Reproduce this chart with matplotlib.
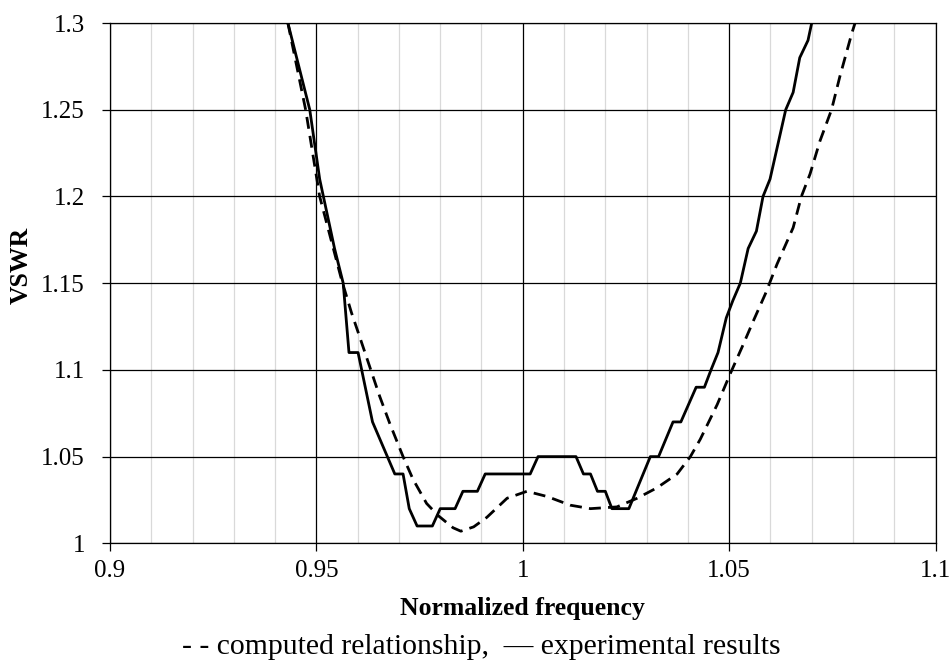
import numpy as np
import matplotlib.pyplot as plt
from matplotlib.ticker import MultipleLocator

plt.rcParams['font.family'] = ['Liberation Serif', 'DejaVu Serif']

# computed relationship (dashed)
calc_x = [0.9431, 0.9474, 0.9508, 0.9561, 0.9585, 0.9605, 0.9629, 0.9653, 0.9678,
          0.9710, 0.9734, 0.9767, 0.9795, 0.9831, 0.9850, 0.9881, 0.9913, 0.9962,
          1.0010, 1.0059, 1.0115, 1.0164, 1.0228, 1.0277, 1.0325, 1.0374, 1.0406,
          1.0430, 1.0471, 1.0503, 1.0531, 1.0560, 1.0588, 1.0616, 1.0655, 1.0675,
          1.0696, 1.0720, 1.0748, 1.0768, 1.0797, 1.0805]
calc_y = [1.300, 1.250, 1.200, 1.152, 1.133, 1.119, 1.102, 1.085, 1.069,
          1.050, 1.037, 1.023, 1.016, 1.009, 1.007, 1.0095, 1.015, 1.026,
          1.030, 1.027, 1.022, 1.020, 1.021, 1.026, 1.032, 1.040, 1.050,
          1.060, 1.080, 1.098, 1.113, 1.129, 1.144, 1.161, 1.182, 1.200,
          1.213, 1.232, 1.250, 1.269, 1.294, 1.300]

# experimental results (solid)
exp_x = [0.9431, 0.9484, 0.9508, 0.9544, 0.9565, 0.9579, 0.9601, 0.9636, 0.9690,
         0.9710, 0.9725, 0.9744, 0.9781, 0.9800, 0.9836, 0.9855, 0.9890, 0.9909,
         1.0018, 1.0037, 1.0129, 1.0147, 1.0164, 1.0181, 1.0200, 1.0216, 1.0257,
         1.0309, 1.0329, 1.0364, 1.0383, 1.0420, 1.0440, 1.0456, 1.0473, 1.0493,
         1.0509, 1.0527, 1.0546, 1.0566, 1.0582, 1.0599, 1.0637, 1.0655, 1.0671,
         1.0691, 1.0700]
exp_y = [1.30, 1.25, 1.21, 1.17, 1.15, 1.11, 1.11, 1.07, 1.04,
         1.04, 1.02, 1.01, 1.01, 1.02, 1.02, 1.03, 1.03, 1.04,
         1.04, 1.05, 1.05, 1.04, 1.04, 1.03, 1.03, 1.02, 1.02,
         1.05, 1.05, 1.07, 1.07, 1.09, 1.09, 1.10, 1.11, 1.13,
         1.14, 1.15, 1.17, 1.18, 1.20, 1.21, 1.25, 1.26, 1.28,
         1.29, 1.30]

fig = plt.figure(figsize=(9.53, 6.61), dpi=100)
ax = fig.add_axes([0.1154, 0.178, 0.8663, 0.7872])

ax.plot(calc_x, calc_y, color='black', lw=2.0, linestyle=(0, (4.3, 2.6)), zorder=3)
ax.plot(exp_x, exp_y, color='black', lw=2.0, zorder=4)

ax.set_xlim(0.9, 1.1)
ax.set_ylim(1.0, 1.3)
ax.xaxis.set_minor_locator(MultipleLocator(0.01))
ax.set_xticks([0.9, 0.95, 1.0, 1.05, 1.1])
ax.set_xticklabels(['0.9', '0.95', '1', '1.05', '1.1'])
ax.set_yticks([1.0, 1.05, 1.1, 1.15, 1.2, 1.25, 1.3])
ax.set_yticklabels(['1', '1.05', '1.1', '1.15', '1.2', '1.25', '1.3'])

ax.grid(which='minor', axis='x', color='#d9d9d9', lw=0.9)
ax.grid(which='major', color='black', lw=0.9)
ax.set_axisbelow(True)
ax.tick_params(which='major', direction='out', length=6, width=0.9, labelsize=18)
ax.tick_params(axis='x', pad=6)
ax.tick_params(axis='y', pad=12)
ax.tick_params(which='minor', length=0)
for s in ax.spines.values():
    s.set_color('black')
    s.set_linewidth(0.9)

ax.set_xlabel('Normalized frequency', fontsize=18.5, fontweight='bold', labelpad=11)
ax.set_ylabel('VSWR', fontsize=18.5, fontweight='bold')
ax.yaxis.set_label_coords(-0.094, 0.535)

fig.text(0.505, 0.011, '- - computed relationship,  \u2014 experimental results',
         ha='center', va='baseline', fontsize=21.3)

fig.savefig('out.png', dpi=100)
